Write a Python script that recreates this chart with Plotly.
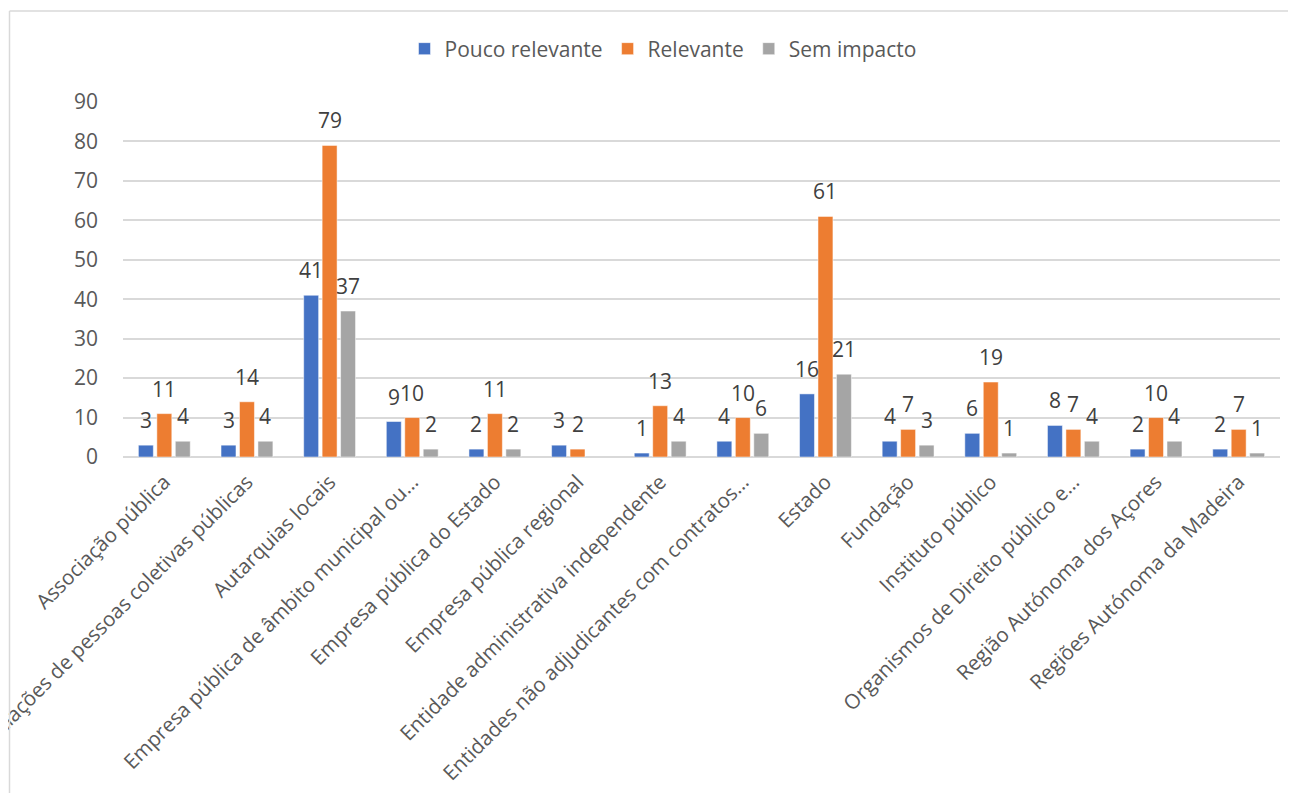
import plotly.graph_objects as go

categories = [
    "Associação pública",
    "Associações de pessoas coletivas públicas",
    "Autarquias locais",
    "Empresa pública de âmbito municipal ou…",
    "Empresa pública do Estado",
    "Empresa pública regional",
    "Entidade administrativa independente",
    "Entidades não adjudicantes com contratos…",
    "Estado",
    "Fundação",
    "Instituto público",
    "Organismos de Direito público e…",
    "Região Autónoma dos Açores",
    "Regiões Autónoma da Madeira",
]
pouco_relevante = [3, 3, 41, 9, 2, 3, 1, 4, 16, 4, 6, 8, 2, 2]
relevante = [11, 14, 79, 10, 11, 2, 13, 10, 61, 7, 19, 7, 10, 7]
sem_impacto = [4, 4, 37, 2, 2, None, 4, 6, 21, 3, 1, 4, 4, 1]

series = [
    ("Pouco relevante", pouco_relevante, "#4472C4"),
    ("Relevante", relevante, "#ED7D31"),
    ("Sem impacto", sem_impacto, "#A5A5A5"),
]

FONT = "Open Sans"
OFF = 8  # page body margin
W, H = 1296 - OFF, 793 - OFF
L, T = 123 - OFF, 102 - OFF
plot_w = 1157
plot_h = 355
R = W - L - plot_w
B = H - T - plot_h
n_cat = len(categories)
bargap = 0.33
cat_px = plot_w / n_cat
slot_px = cat_px * (1 - bargap) / len(series)

fig = go.Figure()
for name, vals, color in series:
    fig.add_trace(go.Bar(
        name=name, x=categories, y=vals,
        marker=dict(color=color, line=dict(color="white", width=0.5)),
    ))

annotations = []
for i, (name, vals, color) in enumerate(series):
    shift = (i - (len(series) - 1) / 2) * slot_px
    for c, v in zip(categories, vals):
        if v is None:
            continue
        annotations.append(dict(
            x=c, y=v, xref="x", yref="y", text=str(v), showarrow=False,
            xshift=shift, yshift=9, yanchor="bottom", xanchor="center",
            font=dict(family=FONT, size=21, color="#404040"),
        ))

# convert reference-image pixel positions to paper coordinates
def px_x(px):
    return (px - OFF - L) / plot_w

def px_y(py):
    return (T + plot_h - (py - OFF)) / plot_h

shapes = [
    dict(type="line", xref="paper", yref="paper", x0=px_x(9.5), x1=px_x(9.5),
         y0=px_y(11), y1=px_y(820), line=dict(color="#D9D9D9", width=1.5)),
    dict(type="line", xref="paper", yref="paper", x0=px_x(9.5), x1=px_x(1320),
         y0=px_y(11), y1=px_y(11), line=dict(color="#D9D9D9", width=1.5)),
]

fig.update_layout(
    width=W, height=H,
    margin=dict(l=L, r=R, t=T, b=B, autoexpand=False),
    paper_bgcolor="white", plot_bgcolor="white",
    barmode="group", bargap=bargap, bargroupgap=0.19,
    font=dict(family=FONT, size=21, color="#595959"),
    legend=dict(orientation="h", x=px_x(663), xanchor="center",
                y=px_y(49), yanchor="middle",
                font=dict(family=FONT, size=21, color="#595959"),
                itemwidth=30, traceorder="normal"),
    annotations=annotations,
    shapes=shapes,
    xaxis=dict(
        tickangle=-45, automargin=False, showgrid=False, showline=False,
        zeroline=False, ticks="", ticklabelstandoff=8,
        tickfont=dict(family=FONT, size=20.5, color="#595959"),
    ),
    yaxis=dict(
        range=[0, 90], dtick=10, automargin=False, showgrid=True,
        gridcolor="#D9D9D9", gridwidth=1.5, zeroline=True, zerolinecolor="#D9D9D9",
        zerolinewidth=1.5, showline=False, ticks="", ticklabelstandoff=24,
        tickfont=dict(family=FONT, size=21, color="#595959"),
    ),
)

fig.write_html("out.html")
